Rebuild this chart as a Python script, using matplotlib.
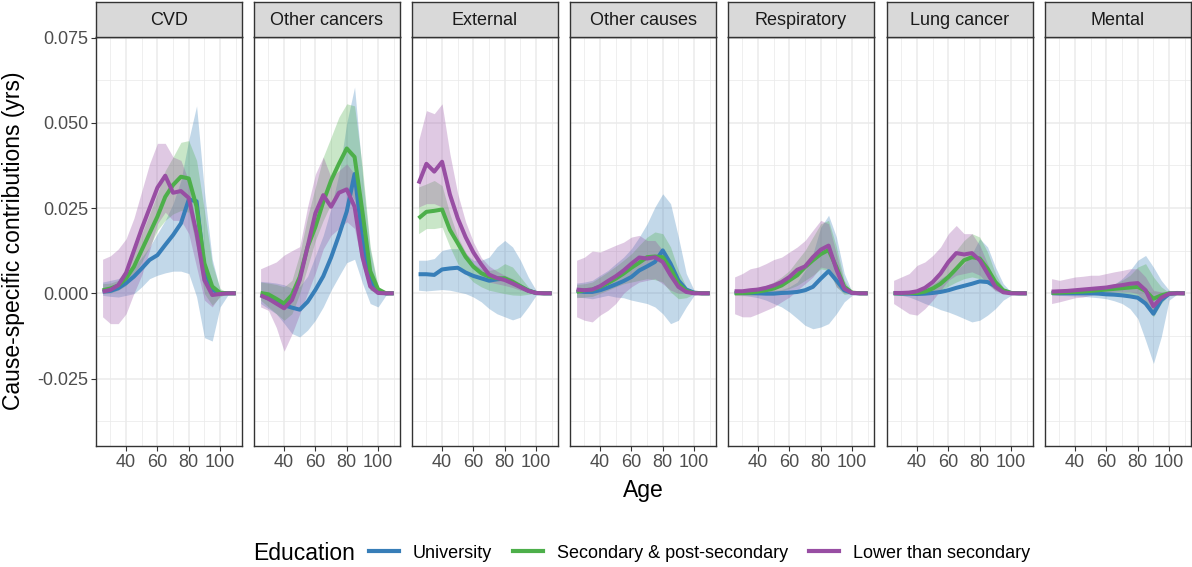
import numpy as np
import matplotlib
matplotlib.use("Agg")
import matplotlib.pyplot as plt
from matplotlib.lines import Line2D

plt.rcParams["font.family"] = ["Liberation Sans", "DejaVu Sans"]

# Ages sampled every 5 years
ages = [25, 30, 35, 40, 45, 50, 55, 60, 65, 70, 75, 80, 85, 90, 95, 100, 105, 110]

causes = ["CVD", "Other cancers", "External", "Other causes", "Respiratory", "Lung cancer", "Mental"]
groups = ["University", "Secondary & post-secondary", "Lower than secondary"]
colors = ["#377EB8", "#4DAF4A", "#984EA3"]

# values below are in thousandths of a year (mean, lower, upper)
cvd_uni = [0.5, 0.7, 1.5, 3.0, 4.9, 7.3, 9.8, 11.2, 14.2, 17.1, 20.5, 27.5, 27.0, 7.0, 1.0, 0.1, 0, 0]
cvd_uni_lo = [-0.6, -0.9, -1.1, -0.6, -0.1, 1.9, 4.3, 5.3, 6.0, 6.5, 6.5, 5.8, -1.0, -13.0, -14.0, -4.0, -0.5, 0]
cvd_uni_hi = [3.3, 3.8, 4.3, 5.8, 7.7, 10.6, 13.6, 17.5, 21.4, 26.3, 33.1, 45.0, 55.0, 30.0, 10.0, 1.0, 0.1, 0]
cvd_sec = [0.9, 1.4, 2.3, 4.4, 7.8, 12.7, 17.6, 22.5, 28.3, 31.8, 34.2, 33.7, 25.4, 8.8, 2.0, 0.1, 0, 0]
cvd_sec_lo = [-0.1, 0.1, 0.9, 2.3, 5.3, 9.2, 13.6, 18.5, 21.4, 23.3, 24.3, 23.8, 13.6, -0.1, -3.5, -1.0, 0, 0]
cvd_sec_hi = [2.8, 3.0, 3.8, 7.2, 12.1, 17.5, 23.3, 29.2, 36.0, 40.0, 44.3, 44.8, 39.0, 24.3, 8.7, 1.4, 0.2, 0]
cvd_low = [0.5, 1.0, 2.4, 6.0, 12.5, 19.0, 25.0, 31.0, 34.5, 29.5, 30.0, 28.0, 17.6, 3.9, -0.5, -0.2, 0, 0]
cvd_low_lo = [-6.9, -8.9, -8.9, -6.0, 0, 5.3, 12.6, 20.4, 23.8, 21.4, 21.4, 17.5, 7.7, -2.0, -4.0, -0.6, 0, 0]
cvd_low_hi = [10, 11, 13, 16, 22, 30, 38, 44, 44, 40, 39, 33, 18, 5, 1, 0.1, 0, 0]

oc_uni = [-0.5, -1.5, -2.5, -3.5, -4.2, -4.8, -2.5, 1.0, 5.0, 10.5, 17.0, 24.0, 35.0, 16.0, 4.0, 0.4, 0, 0]
oc_uni_lo = [-3, -4.5, -6, -8.8, -11.8, -12.8, -10.8, -7.9, -4.0, 0.9, 5.0, 9.0, 10.0, 3.0, -3.0, -4.0, -0.6, 0]
oc_uni_hi = [3.5, 3.3, 3.0, 2.5, 1.5, 2.0, 5.0, 11.0, 17.0, 25.0, 35.0, 50.0, 60.5, 35.0, 12.7, 1.5, 0.2, 0]
oc_sec = [0.1, -0.3, -1.6, -3.0, -0.5, 4.8, 13.6, 19.5, 26.8, 33.1, 38.0, 42.5, 40.0, 24.0, 6.5, 1.2, 0, 0]
oc_sec_lo = [-2, -4, -6, -7.9, -6, -0.1, 7.7, 15.5, 21.4, 26.3, 30.2, 31.2, 27.3, 10.6, 0.9, 0, 0, 0]
oc_sec_hi = [3.3, 3.0, 2.6, 1.9, 3.8, 11.6, 22.4, 31.2, 40.0, 45.8, 51.7, 55.6, 55.0, 37.0, 13.6, 1.9, 0.2, 0]
oc_low = [-0.6, -1.6, -3.0, -4.4, -2.0, 3.9, 13.7, 23.5, 28.8, 25.4, 29.5, 30.5, 25.4, 10.7, 2.0, 0.1, 0, 0]
oc_low_lo = [-4, -5, -10, -17, -12, -6, 0, 6, 13, 17, 19, 21, 19, 8, 1, 0, 0, 0]
oc_low_hi = [7.2, 8.2, 9.2, 11.2, 12.5, 13.7, 25.4, 35.0, 40.0, 34.0, 36.0, 38.0, 35.0, 17.6, 4.0, 0.2, 0, 0]

ext_uni = [5.6, 5.6, 5.4, 7.0, 7.3, 7.5, 6.1, 5.1, 4.4, 3.7, 4.1, 4.3, 3.1, 2.0, 0.8, 0.1, 0, 0]
ext_uni_lo = [0.9, 0.7, 0.9, 1.1, 0.9, 0.4, -0.1, -1.1, -2.5, -4.5, -6.0, -6.9, -7.8, -7.0, -4.0, -0.6, 0, 0]
ext_uni_hi = [9.7, 9.7, 10.2, 12.6, 13.1, 13.1, 11.6, 9.7, 9.7, 10.6, 13.6, 15.5, 13.6, 9.7, 4.8, 0.9, 0.1, 0]
ext_sec = [22.0, 23.9, 24.2, 24.6, 18.6, 14.7, 10.7, 7.8, 5.9, 4.9, 4.4, 4.4, 3.4, 2.1, 0.8, 0.1, 0, 0]
ext_sec_lo = [17.5, 19.0, 19.0, 19.4, 13.6, 8.7, 5.8, 3.3, 1.9, 0.9, 0.4, -0.1, -0.5, -0.6, -0.3, 0, 0, 0]
ext_sec_hi = [31.2, 32.1, 33.1, 31.6, 23.3, 16.5, 12.1, 8.7, 7.2, 6.7, 7.2, 8.7, 7.7, 4.8, 1.9, 0.4, 0, 0]
ext_low = [32.2, 38.0, 35.7, 38.6, 29.0, 22.0, 16.5, 12.0, 8.5, 5.5, 4.5, 3.9, 2.9, 1.8, 0.7, 0.1, 0, 0]
ext_low_lo = [25.3, 26.3, 26.3, 25.3, 18.5, 13.6, 10.2, 7.2, 5.3, 3.3, 2.8, 2.3, 1.7, 0.9, 0.3, 0, 0, 0]
ext_low_hi = [44.8, 53.6, 52.7, 55.6, 40.9, 29.2, 21.0, 15.0, 10.5, 8.0, 6.5, 5.3, 4.3, 2.8, 0.9, 0.1, 0, 0]

oca_uni = [0.7, 0.4, 0.4, 0.9, 1.7, 2.6, 3.6, 4.8, 6.7, 7.9, 9.2, 12.6, 8.7, 3.8, 1.1, 0.2, 0, 0]
oca_uni_lo = [-1.1, -1.3, -1.6, -1.1, -0.6, -1.1, -1.3, -2.0, -2.5, -3.0, -4.0, -6.0, -8.9, -7.9, -4.0, -0.6, 0, 0]
oca_uni_hi = [3.0, 3.3, 3.8, 5.3, 6.7, 8.7, 10.6, 13.1, 16.5, 20.4, 25.3, 29.2, 26.3, 16.5, 5.8, 0.9, 0.1, 0]
oca_sec = [0.4, 0.9, 1.1, 1.9, 3.0, 4.3, 5.8, 7.5, 9.0, 10.6, 10.8, 10.6, 7.2, 2.8, 0.7, 0.1, 0, 0]
oca_sec_lo = [-1.3, -1.1, -0.9, 0, 0.9, 1.9, 2.8, 3.3, 3.8, 4.3, 4.0, 3.3, 0.4, -1.6, -1.3, -0.2, 0, 0]
oca_sec_hi = [2.6, 2.8, 3.3, 4.8, 6.3, 7.9, 9.7, 11.6, 14.1, 16.5, 18.0, 17.5, 13.6, 6.7, 1.9, 0.2, 0, 0]
oca_low = [1.1, 0.9, 1.1, 2.1, 3.6, 5.0, 6.7, 8.7, 10.5, 10.2, 10.6, 9.2, 5.3, 1.9, 0.4, 0, 0, 0]
oca_low_lo = [-6.9, -7.9, -8.4, -6.4, -5.0, -3.0, 0, 1.9, 3.3, 3.8, 4.3, 2.8, 0.9, 0, 0, 0, 0, 0]
oca_low_hi = [9.7, 10.6, 12.4, 12.1, 13.1, 14.1, 15.0, 16.5, 17.0, 15.5, 15.5, 12.6, 7.7, 2.8, 0.6, 0.1, 0, 0]

resp_uni = [0.2, 0.1, 0.1, 0, -0.1, -0.1, 0.1, 0.2, 0.4, 0.9, 1.9, 4.3, 6.5, 3.8, 0.9, 0.1, 0, 0]
resp_uni_lo = [-0.3, -0.6, -0.9, -1.3, -2.0, -3.0, -4.0, -5.5, -7.4, -9.4, -10.4, -9.9, -8.9, -6.0, -2.5, -0.6, 0, 0]
resp_uni_hi = [0.9, 0.9, 0.9, 0.9, 0.7, 0.9, 1.1, 1.9, 3.3, 6.7, 11.6, 19.4, 22.9, 16.5, 5.8, 0.4, 0, 0]
resp_sec = [0, 0.1, 0.2, 0.5, 0.9, 1.4, 2.3, 3.8, 5.3, 7.7, 9.7, 11.5, 12.7, 7.7, 1.9, 0.2, 0, 0]
resp_sec_lo = [-0.6, -0.7, -0.6, -0.4, -0.1, 0.1, 0.6, 1.4, 2.3, 3.8, 5.3, 7.2, 6.7, 1.9, -0.3, -0.1, 0, 0]
resp_sec_hi = [0.9, 1.1, 1.3, 1.9, 2.3, 3.3, 4.8, 6.7, 9.7, 12.6, 16.5, 20.4, 21.4, 13.6, 3.8, 0.2, 0, 0]
resp_low = [0.6, 0.6, 0.9, 1.1, 1.6, 2.3, 3.3, 4.8, 6.9, 7.9, 10.6, 12.8, 14.0, 7.0, 1.4, 0.1, 0, 0]
resp_low_lo = [-6.0, -6.9, -6.9, -6.0, -5.0, -4.0, -2.5, -1.1, 0.9, 2.8, 4.8, 7.7, 7.2, 1.9, 0.1, 0, 0, 0]
resp_low_hi = [4.8, 5.8, 7.2, 7.7, 8.7, 9.9, 10.6, 12.1, 13.6, 15.5, 18.5, 21.4, 20.4, 11.6, 2.8, 0.1, 0, 0]

lung_uni = [0, -0.1, -0.1, -0.2, -0.1, 0.1, 0.4, 0.9, 1.6, 2.2, 2.8, 3.5, 3.3, 2.1, 0.7, 0.1, 0, 0]
lung_uni_lo = [-0.3, -0.6, -1.1, -2.0, -3.0, -3.8, -4.8, -5.5, -6.4, -7.4, -8.4, -7.9, -6.4, -4.5, -2.0, -0.6, 0, 0]
lung_uni_hi = [0.4, 0.4, 0.4, 0.7, 1.4, 2.6, 4.3, 5.8, 6.7, 8.7, 11.6, 16.0, 13.6, 7.7, 2.8, 0.4, 0, 0]
lung_sec = [0, 0, 0.1, 0.1, 0.5, 1.4, 2.8, 4.8, 7.2, 9.7, 10.6, 10.2, 7.2, 3.3, 0.9, 0.1, 0, 0]
lung_sec_lo = [-0.3, -0.4, -0.5, -0.5, -0.3, 0.2, 0.9, 2.1, 3.3, 4.3, 4.8, 4.3, 2.8, 0.9, 0, 0, 0, 0]
lung_sec_hi = [0.4, 0.5, 0.7, 1.1, 2.1, 3.8, 6.3, 9.2, 12.6, 15.5, 17.5, 16.5, 12.1, 5.8, 1.4, 0.1, 0, 0]
lung_low = [0.1, 0.1, 0.2, 0.6, 1.6, 3.3, 5.8, 9.2, 11.8, 11.4, 11.8, 9.7, 5.8, 1.9, 0.3, 0, 0, 0]
lung_low_lo = [-3.0, -4.5, -6.0, -6.4, -4.5, -2.0, 0.9, 3.8, 5.3, 5.8, 6.3, 5.3, 2.8, 0.7, 0, 0, 0, 0]
lung_low_hi = [3.8, 4.8, 5.8, 8.2, 9.2, 11.1, 13.6, 17.5, 19.9, 17.5, 17.5, 14.1, 8.7, 3.3, 0.6, 0.1, 0, 0]

ment_uni = [0.1, 0, 0, 0, 0, 0, -0.1, -0.3, -0.4, -0.6, -0.9, -1.3, -3.0, -6.0, -2.0, -0.2, 0.1, 0]
ment_uni_lo = [-0.6, -0.6, -0.7, -0.8, -0.9, -1.1, -1.3, -1.6, -2.2, -3.0, -4.5, -7.4, -13.8, -20.6, -12.8, -2.0, -0.3, 0]
ment_uni_hi = [0.9, 0.9, 0.9, 1.1, 1.1, 1.3, 1.5, 1.9, 2.6, 4.3, 6.7, 9.7, 11.1, 7.7, 3.8, 0.9, 0.1, 0]
ment_sec = [0.1, 0.2, 0.3, 0.4, 0.5, 0.7, 0.9, 1.1, 1.3, 1.5, 1.7, 1.9, 0.7, -1.6, -0.6, 0, 0, 0]
ment_sec_lo = [-0.4, -0.4, -0.3, -0.3, -0.2, -0.1, -0.1, 0, -0.1, -0.3, -0.6, -1.1, -3.5, -6.9, -3.0, -0.3, 0, 0]
ment_sec_hi = [0.6, 0.7, 0.9, 1.1, 1.3, 1.6, 1.9, 2.2, 2.8, 3.8, 5.3, 7.7, 8.7, 4.8, 1.9, 0.2, 0, 0]
ment_low = [0.5, 0.6, 0.7, 0.9, 1.1, 1.3, 1.5, 1.7, 2.1, 2.4, 2.8, 3.0, 0.9, -3.8, -1.3, -0.1, 0, 0]
ment_low_lo = [-3.0, -2.5, -1.9, -1.3, -1.1, -0.6, 0, 0.1, 0.4, 0.4, 0.4, -0.1, -3.0, -6.4, -2.5, -0.3, 0, 0]
ment_low_hi = [4.3, 3.8, 4.3, 4.8, 5.0, 5.3, 5.3, 5.8, 6.3, 6.7, 7.2, 7.2, 4.8, 0.9, 0.4, 0.1, 0, 0]

panels = [
    [(cvd_uni, cvd_uni_lo, cvd_uni_hi), (cvd_sec, cvd_sec_lo, cvd_sec_hi), (cvd_low, cvd_low_lo, cvd_low_hi)],
    [(oc_uni, oc_uni_lo, oc_uni_hi), (oc_sec, oc_sec_lo, oc_sec_hi), (oc_low, oc_low_lo, oc_low_hi)],
    [(ext_uni, ext_uni_lo, ext_uni_hi), (ext_sec, ext_sec_lo, ext_sec_hi), (ext_low, ext_low_lo, ext_low_hi)],
    [(oca_uni, oca_uni_lo, oca_uni_hi), (oca_sec, oca_sec_lo, oca_sec_hi), (oca_low, oca_low_lo, oca_low_hi)],
    [(resp_uni, resp_uni_lo, resp_uni_hi), (resp_sec, resp_sec_lo, resp_sec_hi), (resp_low, resp_low_lo, resp_low_hi)],
    [(lung_uni, lung_uni_lo, lung_uni_hi), (lung_sec, lung_sec_lo, lung_sec_hi), (lung_low, lung_low_lo, lung_low_hi)],
    [(ment_uni, ment_uni_lo, ment_uni_hi), (ment_sec, ment_sec_lo, ment_sec_hi), (ment_low, ment_low_lo, ment_low_hi)],
]

W, H = 1192, 567
fig = plt.figure(figsize=(W / 100, H / 100), dpi=100)
fig.patch.set_facecolor("white")

lefts = [96, 254, 412, 570, 728, 887, 1045]
pw = 146
ptop, pbot = 37, 446
strip_top = 2
x = np.array(ages)

for i, (cause, series) in enumerate(zip(causes, panels)):
    ax = fig.add_axes([lefts[i] / W, 1 - pbot / H, pw / W, (pbot - ptop) / H])
    ax.set_xlim(20.8, 114)
    ax.set_ylim(-0.0448, 0.0752)

    # ribbons first, then the lines on top
    for (mean, lo, hi), col in zip(series, colors):
        ax.fill_between(x, np.array(lo) / 1000, np.array(hi) / 1000,
                        color=col, alpha=0.3, linewidth=0)
    for (mean, lo, hi), col in zip(series, colors):
        ax.plot(x, np.array(mean) / 1000, color=col, linewidth=2.9,
                solid_joinstyle="round", solid_capstyle="butt")

    ax.set_xticks([40, 60, 80, 100])
    ax.set_xticks([30, 50, 70, 90, 110], minor=True)
    ax.set_yticks([-0.025, 0, 0.025, 0.05, 0.075])
    ax.set_yticks([-0.0375, -0.0125, 0.0125, 0.0375, 0.0625], minor=True)
    ax.grid(which="major", color="#EBEBEB", linewidth=1.1)
    ax.grid(which="minor", color="#EBEBEB", linewidth=0.55)
    ax.set_axisbelow(True)
    ax.tick_params(which="major", length=3.5, width=0.8, color="#333333",
                   labelcolor="#4D4D4D", labelsize=13, pad=2)
    ax.tick_params(which="minor", length=0)
    if i == 0:
        ax.set_yticklabels(["-0.025", "0.000", "0.025", "0.050", "0.075"])
    else:
        ax.set_yticklabels([])
        ax.tick_params(axis="y", which="major", length=0)
    for sp in ax.spines.values():
        sp.set_color("#333333")
        sp.set_linewidth(1.0)

    # facet strip
    sax = fig.add_axes([lefts[i] / W, 1 - ptop / H, pw / W, (ptop - strip_top) / H])
    sax.set_facecolor("#D9D9D9")
    sax.set_xticks([])
    sax.set_yticks([])
    for sp in sax.spines.values():
        sp.set_color("#333333")
        sp.set_linewidth(1.0)
    sax.text(0.5, 0.47, cause, ha="center", va="center", fontsize=13,
             color="#1A1A1A", transform=sax.transAxes)

fig.text(14 / W, 1 - 241 / H, "Cause-specific contributions (yrs)",
         rotation=90, ha="center", va="center", fontsize=16.5, color="black")
fig.text(643 / W, 1 - 490 / H, "Age", ha="center", va="center",
         fontsize=16.5, color="black")

fig.text(253 / W, 1 - 553 / H, "Education", ha="left", va="center",
         fontsize=16.5, color="black")
handles = [Line2D([0], [0], color=c, linewidth=3) for c in colors]
fig.legend(handles, groups, loc="center left", bbox_to_anchor=(369 / W, 1 - 553 / H),
           ncol=3, frameon=False, fontsize=13, handlelength=1.65,
           handletextpad=0.75, columnspacing=1.2, borderaxespad=0, borderpad=0)

fig.savefig("out.png", dpi=100)
